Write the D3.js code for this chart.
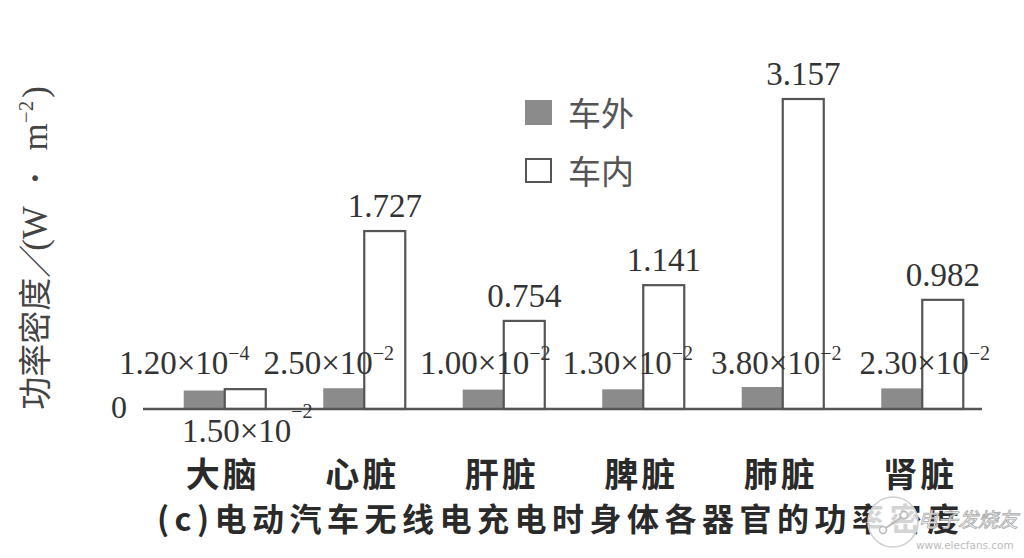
<!DOCTYPE html>
<html>
<head>
<meta charset="utf-8">
<script src="https://cdn.jsdelivr.net/npm/d3@7"></script>
<style>
  html, body { margin: 0; padding: 0; background: #ffffff; }
  svg { display: block; }
</style>
</head>
<body>
<svg id="chart" width="1024" height="558"></svg>
<script>
// ---------- data ----------
const categories = ["大脑", "心脏", "肝脏", "脾脏", "肺脏", "肾脏"];
const seriesNames = ["车外", "车内"];
const outsideValues = [1.20e-4, 2.50e-2, 1.00e-2, 1.30e-2, 3.80e-2, 2.30e-2];
const insideValues = [1.50e-2, 1.727, 0.754, 1.141, 3.157, 0.982];
const outsideLabelMant = ["1.20", "2.50", "1.00", "1.30", "3.80", "2.30"];
const outsideLabelExp = ["−4", "−2", "−2", "−2", "−2", "−2"];
const insideLabels = ["1.50×10|−2", "1.727", "0.754", "1.141", "3.157", "0.982"];
const yTickLabels = ["0"];
const yAxisTitleCjk = "功率密度／";
const yAxisTitleUnit = ["(W", "·", "m"];
const yAxisExp = "−2";
const caption = "(c)电动汽车无线电充电时身体各器官的功率密度";

// ---------- layout (not data) ----------
const outsideLabelShift = [-20, -15, 2, 5, 14, 23];
const svg = d3.select("#chart");
const serif = "'Liberation Serif', 'DejaVu Serif', serif";
const cjk = "'Noto Sans CJK SC', 'Noto Sans', sans-serif";

const x0 = d3.scaleBand().domain(categories).range([155, 992])
  .paddingInner(0.412).paddingOuter(0.206);
const x1 = d3.scaleBand().domain(seriesNames).range([0, x0.bandwidth()]);
const y = d3.scaleLinear().domain([-0.2, 3.157]).range([409, 99]);
const yBase = y(-0.2);

const rows = categories.map((c, i) => ({ c, i, out: outsideValues[i], inn: insideValues[i] }));

// y tick label
svg.append("text")
  .attr("x", 119).attr("y", yBase + 9)
  .attr("text-anchor", "middle")
  .attr("font-family", serif).attr("font-size", 32).attr("fill", "#333")
  .text(yTickLabels[0]);

// bars
const g = svg.append("g");
g.selectAll("rect.out").data(rows).join("rect")
  .attr("class", "out")
  .attr("x", d => x0(d.c) + x1("车外"))
  .attr("width", x1.bandwidth())
  .attr("y", d => y(d.out))
  .attr("height", d => yBase - y(d.out))
  .attr("fill", "#8b8b8b");

g.selectAll("rect.in").data(rows).join("rect")
  .attr("class", "in")
  .attr("x", d => x0(d.c) + x1("车内"))
  .attr("width", x1.bandwidth())
  .attr("y", d => y(d.inn))
  .attr("height", d => yBase - y(d.inn))
  .attr("fill", "#ffffff")
  .attr("stroke", "#555").attr("stroke-width", 2.2);

// axis line
svg.append("line")
  .attr("x1", 143).attr("x2", 982)
  .attr("y1", yBase).attr("y2", yBase)
  .attr("stroke", "#555").attr("stroke-width", 2.6);

// inside labels (top of white bars)
rows.forEach(d => {
  const cx = x0(d.c) + x1("车内") + x1.bandwidth() / 2;
  const lab = insideLabels[d.i];
  if (lab.includes("|")) {
    const [m, e] = lab.split("|");
    const t = svg.append("text")
      .attr("x", cx + 2).attr("y", yBase + 33)
      .attr("text-anchor", "middle")
      .attr("font-family", serif).attr("font-size", 33).attr("fill", "#333");
    t.append("tspan").text(m);
    t.append("tspan").attr("font-size", 20).attr("dy", -24).text(e);
  } else {
    svg.append("text")
      .attr("x", cx).attr("y", y(d.inn) - 14)
      .attr("text-anchor", "middle")
      .attr("font-family", serif).attr("font-size", 33).attr("fill", "#333")
      .text(lab);
  }
});

// outside labels
rows.forEach(d => {
  const cx = x0(d.c) + x1("车外") + x1.bandwidth() / 2 + outsideLabelShift[d.i];
  const t = svg.append("text")
    .attr("x", cx).attr("y", 374)
    .attr("text-anchor", "middle")
    .attr("font-family", serif).attr("font-size", 33).attr("fill", "#333");
  t.append("tspan").text(outsideLabelMant[d.i] + "×10");
  t.append("tspan").attr("font-size", 20).attr("dy", -14).text(outsideLabelExp[d.i]);
});

// category labels
svg.selectAll("text.cat").data(categories).join("text")
  .attr("class", "cat")
  .attr("x", c => x0(c) + x0.bandwidth() / 2 - 2)
  .attr("y", 487)
  .attr("text-anchor", "middle")
  .attr("font-family", cjk).attr("font-size", 34).attr("font-weight", 700)
  .attr("letter-spacing", 3)
  .attr("fill", "#2a2a2a")
  .text(c => c);

// legend
const legend = svg.append("g");
legend.append("rect").attr("x", 525).attr("y", 100).attr("width", 27).attr("height", 25)
  .attr("fill", "#8b8b8b");
legend.append("rect").attr("x", 526).attr("y", 159).attr("width", 25).attr("height", 23)
  .attr("fill", "#fff").attr("stroke", "#555").attr("stroke-width", 2);
legend.selectAll("text").data(seriesNames).join("text")
  .attr("x", 568).attr("y", (d, i) => 126 + i * 58)
  .attr("font-family", cjk).attr("font-size", 33).attr("font-weight", 400)
  .attr("fill", "#555")
  .text(d => d);

// y axis title
const yt = svg.append("text")
  .attr("transform", "translate(47,248) rotate(-90)")
  .attr("text-anchor", "middle")
  .attr("font-family", cjk).attr("font-size", 33).attr("fill", "#444");
yt.append("tspan").text(yAxisTitleCjk);
yt.append("tspan").attr("font-family", serif).attr("font-size", 35).attr("dx", -6).text(yAxisTitleUnit[0]);
yt.append("tspan").attr("font-family", serif).attr("font-size", 35).attr("font-weight", 700).attr("dx", 22).text(yAxisTitleUnit[1]);
yt.append("tspan").attr("font-family", serif).attr("font-size", 35).attr("dx", 22).text(yAxisTitleUnit[2]);
yt.append("tspan").attr("font-family", serif).attr("font-size", 21).attr("dy", -14).text(yAxisExp);
yt.append("tspan").attr("font-family", serif).attr("font-size", 35).attr("dy", 14).attr("dx", 3).text(")");

// caption
svg.append("text")
  .attr("x", 157).attr("y", 531)
  .attr("font-family", cjk).attr("font-size", 32).attr("font-weight", 700)
  .attr("letter-spacing", 5.5)
  .attr("fill", "#2a2a2a")
  .text(caption);

// watermark
const wm = svg.append("g");
wm.append("circle").attr("cx", 893).attr("cy", 522).attr("r", 25)
  .attr("fill", "#ffffff").attr("fill-opacity", 0.8)
  .attr("stroke", "#cfcfcf").attr("stroke-width", 1.5);
wm.append("line").attr("x1", 883).attr("y1", 530).attr("x2", 903).attr("y2", 516)
  .attr("stroke", "#bbb").attr("stroke-width", 2);
wm.append("circle").attr("cx", 883).attr("cy", 530).attr("r", 3.5).attr("fill", "#fff").attr("stroke", "#bbb").attr("stroke-width", 1.5);
wm.append("circle").attr("cx", 904).attr("cy", 515).attr("r", 3.5).attr("fill", "#fff").attr("stroke", "#bbb").attr("stroke-width", 1.5);
wm.append("text").attr("x", 918).attr("y", 527)
  .attr("font-family", cjk).attr("font-size", 20).attr("font-style", "italic")
  .attr("fill", "#ffffff").attr("fill-opacity", 0.9)
  .attr("stroke", "#aaa").attr("stroke-width", 0.8)
  .text("电子发烧友");
wm.append("text").attr("x", 916).attr("y", 549)
  .attr("font-family", "'DejaVu Sans', sans-serif").attr("font-size", 10.5)
  .attr("fill", "#bbb")
  .text("www.elecfans.com");
</script>
</body>
</html>
